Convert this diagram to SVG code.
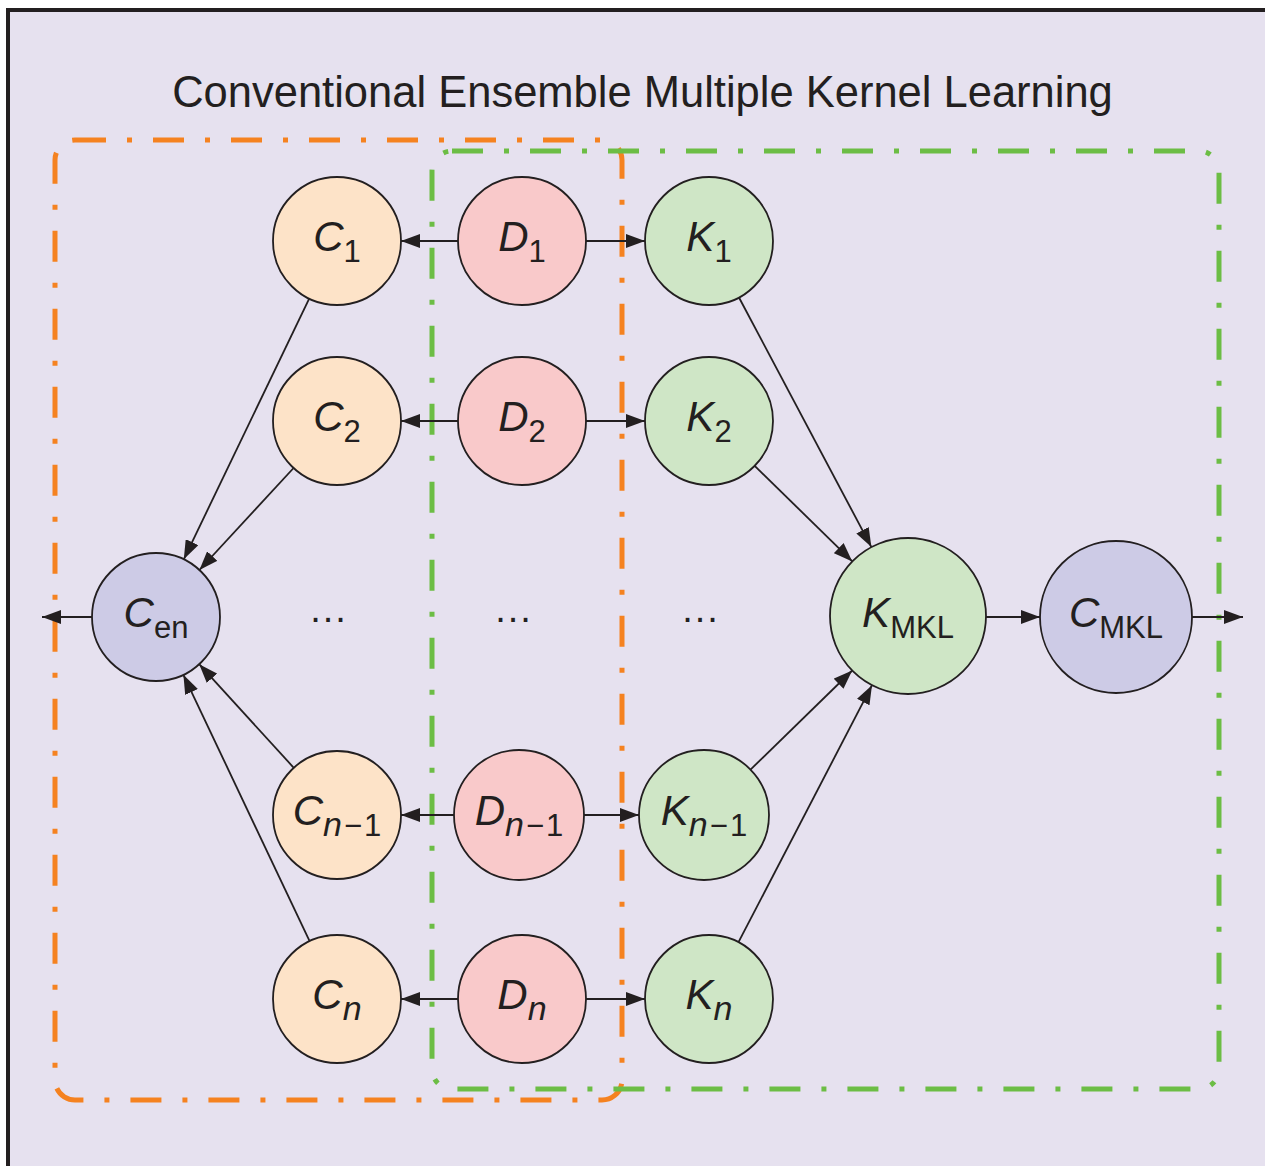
<svg xmlns="http://www.w3.org/2000/svg" width="1265" height="1166" viewBox="0 0 1265 1166">
<style>
.node{stroke:#231f20;stroke-width:1.8}
.c{fill:#fde3c8}.d{fill:#f9c9ca}.k{fill:#cfe6c6}.p{fill:#cdcbe6}
.lbl{font-family:"Liberation Sans",Arial,sans-serif;fill:#231f20;text-anchor:middle}
.m{font-style:italic;font-size:42px}
.s{font-size:31px}
.si{font-size:34px;font-style:italic}
.conn line{stroke:#231f20;stroke-width:1.8;marker-end:url(#ah)}
.box{fill:none;stroke-width:5;stroke-dasharray:31 21 5 21}
</style>
<defs>
<marker id="ah" markerUnits="userSpaceOnUse" markerWidth="19" markerHeight="14" refX="19" refY="7" orient="auto">
<path d="M0,0 L19,7 L0,14 z" fill="#231f20"/>
</marker>
</defs>
<rect x="0" y="0" width="1265" height="1166" fill="#ffffff"/>
<rect x="8" y="10" width="1280" height="1180" fill="#e6e1ef" stroke="#231f20" stroke-width="4"/>
<text x="642.5" y="107" font-family="'Liberation Sans',Arial,sans-serif" font-size="43.5" fill="#231f20" text-anchor="middle">Conventional Ensemble Multiple Kernel Learning</text>
<g id="boxes">
<rect class="box" x="55" y="140" width="567" height="960" rx="20" stroke="#f58220"/>
<rect class="box" x="432" y="151" width="787" height="938" rx="20" stroke="#6cbd45"/>
</g>
<g id="connectors" class="conn">
<line x1="458" y1="241" x2="401" y2="241"/>
<line x1="586" y1="241" x2="645" y2="241"/>
<line x1="458" y1="421" x2="401" y2="421"/>
<line x1="586" y1="421" x2="645" y2="421"/>
<line x1="454" y1="815" x2="401" y2="815"/>
<line x1="584" y1="815" x2="639" y2="815"/>
<line x1="458" y1="999" x2="401" y2="999"/>
<line x1="586" y1="999" x2="645" y2="999"/>
<line x1="309.2" y1="298.7" x2="183.8" y2="559.3"/>
<line x1="293.6" y1="468" x2="199.4" y2="570"/>
<line x1="293.8" y1="767.8" x2="199.2" y2="664.2"/>
<line x1="309.6" y1="941.2" x2="183.4" y2="674.8"/>
<line x1="739" y1="297.5" x2="871.4" y2="547.1"/>
<line x1="754.7" y1="465.8" x2="852.3" y2="561.4"/>
<line x1="750.5" y1="769.6" x2="852.2" y2="670.5"/>
<line x1="738.5" y1="942.2" x2="872" y2="685.2"/>
<line x1="92" y1="617" x2="42" y2="617"/>
<line x1="986" y1="617" x2="1040" y2="617"/>
<line x1="1192" y1="617" x2="1243" y2="617"/>
</g>
<g id="C1"><circle class="node c" cx="337" cy="241" r="64"/><text class="lbl" x="337" y="251"><tspan class="m">C</tspan><tspan class="s" dy="11">1</tspan></text></g>
<g id="C2"><circle class="node c" cx="337" cy="421" r="64"/><text class="lbl" x="337" y="431"><tspan class="m">C</tspan><tspan class="s" dy="11">2</tspan></text></g>
<g id="Cn1"><circle class="node c" cx="337" cy="815" r="64"/><text class="lbl" x="337" y="825"><tspan class="m">C</tspan><tspan class="si" dy="11">n</tspan><tspan class="s" dx="2">−</tspan><tspan class="s" dx="2">1</tspan></text></g>
<g id="Cn"><circle class="node c" cx="337" cy="999" r="64"/><text class="lbl" x="337" y="1009"><tspan class="m">C</tspan><tspan class="si" dy="11">n</tspan></text></g>
<g id="D1"><circle class="node d" cx="522" cy="241" r="64"/><text class="lbl" x="522" y="251"><tspan class="m">D</tspan><tspan class="s" dy="11">1</tspan></text></g>
<g id="D2"><circle class="node d" cx="522" cy="421" r="64"/><text class="lbl" x="522" y="431"><tspan class="m">D</tspan><tspan class="s" dy="11">2</tspan></text></g>
<g id="Dn1"><circle class="node d" cx="519" cy="815" r="65"/><text class="lbl" x="519" y="825"><tspan class="m">D</tspan><tspan class="si" dy="11">n</tspan><tspan class="s" dx="2">−</tspan><tspan class="s" dx="2">1</tspan></text></g>
<g id="Dn"><circle class="node d" cx="522" cy="999" r="64"/><text class="lbl" x="522" y="1009"><tspan class="m">D</tspan><tspan class="si" dy="11">n</tspan></text></g>
<g id="K1"><circle class="node k" cx="709" cy="241" r="64"/><text class="lbl" x="709" y="251"><tspan class="m">K</tspan><tspan class="s" dy="11">1</tspan></text></g>
<g id="K2"><circle class="node k" cx="709" cy="421" r="64"/><text class="lbl" x="709" y="431"><tspan class="m">K</tspan><tspan class="s" dy="11">2</tspan></text></g>
<g id="Kn1"><circle class="node k" cx="704" cy="815" r="65"/><text class="lbl" x="704" y="825"><tspan class="m">K</tspan><tspan class="si" dy="11">n</tspan><tspan class="s" dx="2">−</tspan><tspan class="s" dx="2">1</tspan></text></g>
<g id="Kn"><circle class="node k" cx="709" cy="999" r="64"/><text class="lbl" x="709" y="1009"><tspan class="m">K</tspan><tspan class="si" dy="11">n</tspan></text></g>
<g id="Cen"><circle class="node p" cx="156" cy="617" r="64"/><text class="lbl" x="156" y="627"><tspan class="m">C</tspan><tspan class="s" dy="11" font-size="34">en</tspan></text></g>
<g id="KMKL"><circle class="node k" cx="908" cy="616" r="78"/><text class="lbl" x="908" y="627"><tspan class="m" font-size="43">K</tspan><tspan class="s" dy="11" font-size="33">MKL</tspan></text></g>
<g id="CMKL"><circle class="node p" cx="1116" cy="617" r="76"/><text class="lbl" x="1116" y="627"><tspan class="m" font-size="43">C</tspan><tspan class="s" dy="11" font-size="33">MKL</tspan></text></g>
<g id="ellipses" font-family="'Liberation Sans',Arial,sans-serif" font-size="38" fill="#231f20" text-anchor="middle" letter-spacing="2">
<text x="329" y="622">...</text>
<text x="514" y="622">...</text>
<text x="701" y="622">...</text>
</g>
</svg>
